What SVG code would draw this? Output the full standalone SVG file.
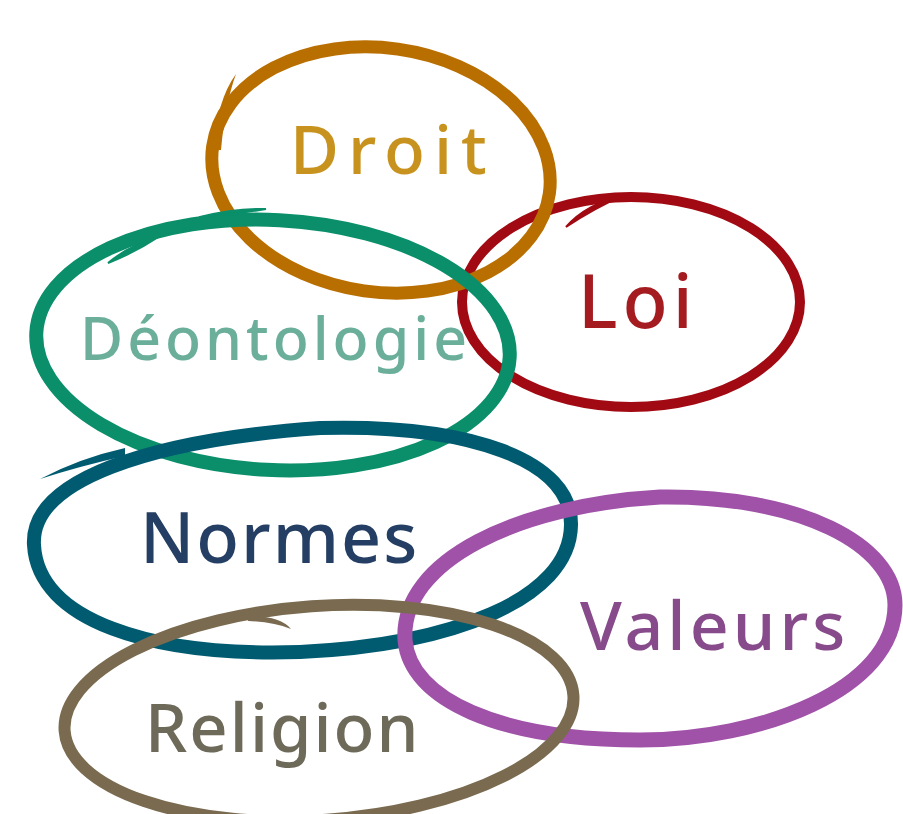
<svg xmlns="http://www.w3.org/2000/svg" width="903" height="814" viewBox="0 0 903 814">
<style>
.ring{fill:none;stroke-linecap:round;stroke-linejoin:round}
.lbl{font-family:"Noto Sans","Liberation Sans",sans-serif;font-weight:500;text-anchor:start}
</style>
<rect width="903" height="814" fill="#ffffff"/>
<g id="loi">
<ellipse class="ring" cx="631" cy="302" rx="169" ry="105" stroke="#A10A12" stroke-width="10"/>
<path d="M566,227 Q586,204 626,194 Q594,208 566,227 Z" fill="#A10A12" stroke="#A10A12" stroke-width="2"/>
<text class="lbl" x="578" y="328" font-size="74" letter-spacing="5" fill="#A51C20">Loi</text>
</g>
<g id="droit">
<ellipse class="ring" cx="381" cy="170" rx="170" ry="122" transform="rotate(8 381 170)" stroke="#B96F00" stroke-width="13"/>
<path d="M213,150 Q217,100 236,74 Q225,104 221,150 Z" fill="#B96F00"/>
<text class="lbl" x="290" y="174" font-size="67" letter-spacing="9" fill="#C8921E">Droit</text>
</g>
<g id="deontologie">
<ellipse class="ring" cx="273" cy="345" rx="237" ry="125" transform="rotate(3 273 345)" stroke="#0A8F6A" stroke-width="14"/>
<path d="M108,263 Q130,245 160,236 Q136,252 108,263 Z" fill="#0A8F6A" stroke="#0A8F6A" stroke-width="2"/>
<path d="M200,217 Q235,208 266,209 Q235,214 200,219 Z" fill="#0A8F6A" stroke="#0A8F6A" stroke-width="2"/>
<text class="lbl" x="80" y="360" font-size="59" letter-spacing="4" fill="#6BAF9B">Déontologie</text>
</g>
<g id="normes">
<path class="ring" d="M34,545 C30,480 150,440 320,428 C470,424 572,460 571,525 C570,600 450,645 300,652 C150,657 38,620 34,545 Z" stroke="#005B70" stroke-width="14"/>
<path d="M40,479 Q80,458 125,448 L125,456 Q80,466 40,479 Z" fill="#005B70"/>
<text class="lbl" x="140" y="563" font-size="70" letter-spacing="2" fill="#243F63">Normes</text>
</g>
<g id="valeurs">
<path class="ring" d="M405,640 C400,560 520,505 660,497 C800,495 895,545 895,605 C895,690 760,740 640,740 C500,740 410,700 405,640 Z" stroke="#A052A8" stroke-width="15"/>
<text class="lbl" x="580" y="650" font-size="68" letter-spacing="4" fill="#874A8A">Valeurs</text>
</g>
<g id="religion">
<ellipse class="ring" cx="319" cy="713" rx="255" ry="107" transform="rotate(-4 319 713)" stroke="#7A6B50" stroke-width="12"/>
<path d="M248,616 Q280,616 291,629 Q274,622 248,621 Z" fill="#7A6B50"/>
<text class="lbl" x="145" y="752" font-size="67" letter-spacing="2" fill="#6E6A5A">Religion</text>
</g>
<g id="connectors"></g>
</svg>
